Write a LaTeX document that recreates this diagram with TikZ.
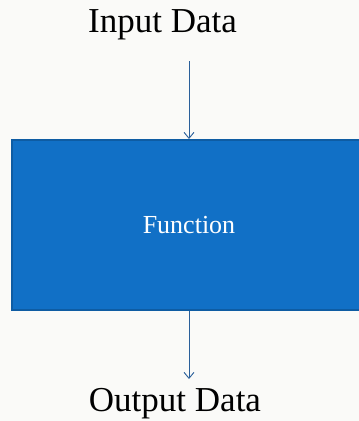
\documentclass[tikz,border=0pt]{standalone}
\usepackage{fontspec}
\setmainfont{Liberation Serif}
\usetikzlibrary{arrows.meta}
\definecolor{boxfill}{HTML}{1170C6}
\definecolor{boxline}{HTML}{0E5CA3}
\definecolor{arrowblue}{HTML}{2A5F9A}
\definecolor{paper}{HTML}{FAFAF8}

\begin{document}
\begin{tikzpicture}[x=1pt,y=-1pt,
  flow/.style={draw=arrowblue,line width=0.9pt,-{Straight Barb[length=6pt,width=10pt]}},
  label/.style={anchor=base,inner sep=0pt,font=\fontsize{35}{40}\selectfont}]
  \clip (0,0) rectangle (359,421);
  \fill[paper] (0,0) rectangle (359,421);
  \node[draw=boxline,fill=boxfill,line width=2pt,minimum width=354pt,minimum height=170pt,
    text=white,font=\fontsize{26}{30}\selectfont] (fn) at (189,225) {Function};
  \node[label] (inp) at (162.5,32) {Input Data};
  \node[label] (outp) at (175,411) {Output Data};
  \coordinate (inbeg) at (189,61);
  \coordinate (outend) at (189,379);
  \draw[flow] (inbeg) -- (fn.north);
  \draw[flow] (fn.south) -- (outend);
\end{tikzpicture}
\end{document}
